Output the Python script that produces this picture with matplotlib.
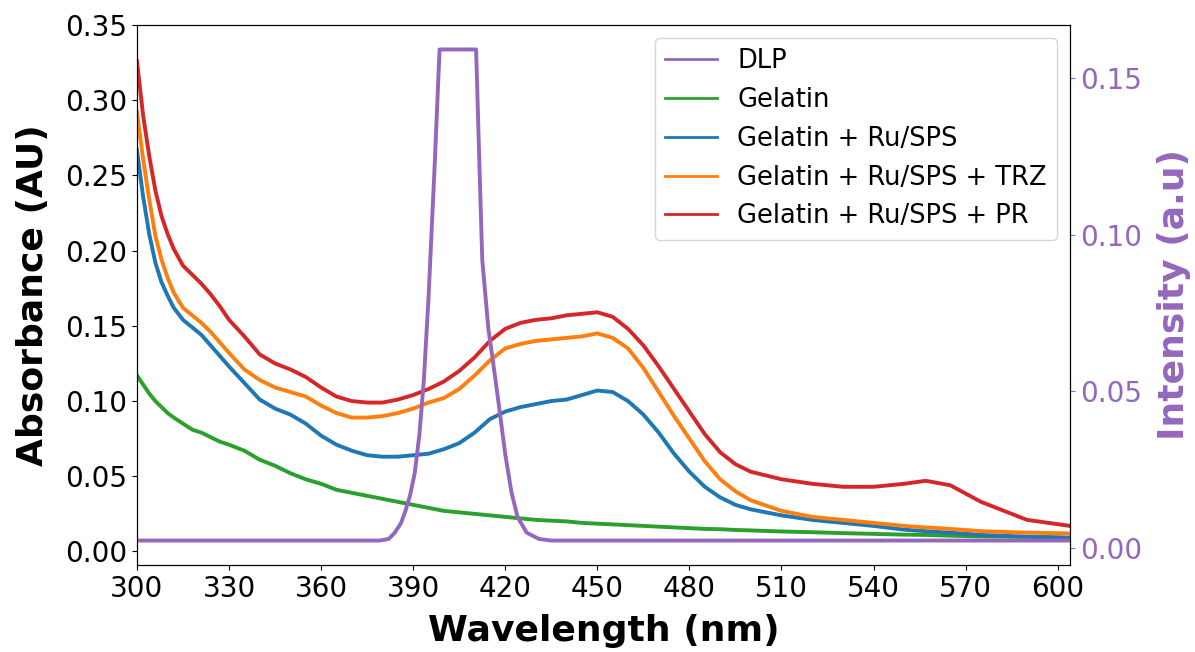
import numpy as np
import matplotlib.pyplot as plt

wl = [300, 302, 304, 306, 308, 310, 312, 315, 318, 321, 324, 327, 330, 335, 340,
      345, 350, 355, 360, 365, 370, 375, 380, 385, 390, 395, 400, 405, 410, 415,
      420, 425, 430, 435, 440, 445, 450, 455, 460, 465, 470, 475, 480, 485, 490,
      495, 500, 510, 520, 530, 540, 550, 557, 565, 575, 590, 604]

gelatin = [0.117, 0.111, 0.105, 0.100, 0.096, 0.092, 0.089, 0.085, 0.081, 0.079,
           0.076, 0.073, 0.071, 0.067, 0.061, 0.057, 0.052, 0.048, 0.045, 0.041,
           0.039, 0.037, 0.035, 0.033, 0.031, 0.029, 0.027, 0.026, 0.025, 0.024,
           0.023, 0.022, 0.021, 0.0205, 0.020, 0.019, 0.0185, 0.018, 0.0175, 0.017,
           0.0165, 0.016, 0.0155, 0.015, 0.0148, 0.0143, 0.014, 0.0133, 0.0128, 0.0122,
           0.0117, 0.0112, 0.011, 0.0105, 0.010, 0.0097, 0.0093]

ru_sps = [0.267, 0.236, 0.211, 0.192, 0.179, 0.170, 0.162, 0.154, 0.149, 0.144,
          0.137, 0.130, 0.123, 0.112, 0.101, 0.095, 0.091, 0.085, 0.077, 0.071,
          0.067, 0.064, 0.063, 0.063, 0.064, 0.065, 0.068, 0.072, 0.079, 0.088,
          0.093, 0.096, 0.098, 0.100, 0.101, 0.104, 0.107, 0.106, 0.100, 0.091,
          0.079, 0.065, 0.053, 0.043, 0.036, 0.031, 0.028, 0.024, 0.021, 0.019,
          0.017, 0.0145, 0.0135, 0.0125, 0.011, 0.0098, 0.009]

ru_sps_trz = [0.292, 0.261, 0.234, 0.210, 0.194, 0.182, 0.172, 0.162, 0.157, 0.152,
              0.146, 0.139, 0.132, 0.121, 0.114, 0.109, 0.106, 0.103, 0.097, 0.092,
              0.089, 0.089, 0.090, 0.092, 0.095, 0.099, 0.102, 0.108, 0.117, 0.127,
              0.135, 0.138, 0.140, 0.141, 0.142, 0.143, 0.145, 0.142, 0.135, 0.122,
              0.106, 0.090, 0.075, 0.060, 0.048, 0.040, 0.034, 0.027, 0.023, 0.021,
              0.019, 0.017, 0.016, 0.015, 0.0135, 0.0125, 0.012]

ru_sps_pr = [0.326, 0.290, 0.263, 0.240, 0.223, 0.211, 0.201, 0.190, 0.184, 0.178,
             0.171, 0.163, 0.154, 0.143, 0.131, 0.125, 0.121, 0.116, 0.109, 0.103,
             0.100, 0.099, 0.099, 0.101, 0.104, 0.108, 0.113, 0.120, 0.129, 0.140,
             0.148, 0.152, 0.154, 0.155, 0.157, 0.158, 0.159, 0.156, 0.148, 0.137,
             0.123, 0.108, 0.093, 0.078, 0.066, 0.058, 0.053, 0.048, 0.045, 0.043,
             0.043, 0.045, 0.047, 0.044, 0.033, 0.021, 0.017]

dlp_wl = [300, 350, 379, 382, 384, 386, 387.5, 389, 390.5, 392, 393.5, 395, 397, 398.6,
          410.5, 411.5, 412.5, 414.5, 416.5, 418, 420, 422, 424, 427, 431, 435, 500, 604]
dlp = [0.0025, 0.0025, 0.0025, 0.003, 0.005, 0.008, 0.012, 0.017, 0.024, 0.036, 0.054,
       0.080, 0.122, 0.159, 0.159, 0.125, 0.092, 0.070, 0.056, 0.045, 0.030, 0.018,
       0.010, 0.005, 0.003, 0.0025, 0.0025, 0.0025]

purple = '#9467bd'

fig, ax = plt.subplots(figsize=(11.95, 6.52), dpi=100)
fig.subplots_adjust(left=0.1146, right=0.8954, top=0.9617, bottom=0.1334)

l_gel, = ax.plot(wl, gelatin, color='#2ca02c', lw=2.8, label='Gelatin')
l_ru, = ax.plot(wl, ru_sps, color='#1f77b4', lw=2.8, label='Gelatin + Ru/SPS')
l_trz, = ax.plot(wl, ru_sps_trz, color='#ff7f0e', lw=2.8, label='Gelatin + Ru/SPS + TRZ')
l_pr, = ax.plot(wl, ru_sps_pr, color='#d62728', lw=2.8, label='Gelatin + Ru/SPS + PR')

ax.set_xlim(300, 604)
ax.set_ylim(-0.009, 0.35)
ax.set_xticks(np.arange(300, 601, 30))
ax.set_xlabel('Wavelength (nm)', fontsize=26, fontweight='bold', labelpad=8)
ax.set_ylabel('Absorbance (AU)', fontsize=26, fontweight='bold', labelpad=11)
ax.tick_params(labelsize=20)

ax2 = ax.twinx()
l_dlp, = ax2.plot(dlp_wl, dlp, color=purple, lw=2.8, label='DLP')
ax2.set_ylim(-0.0053, 0.1668)
ax2.set_yticks([0.0, 0.05, 0.10, 0.15])
ax2.set_ylabel('Intensity (a.u)', fontsize=26, fontweight='bold', color=purple, labelpad=11)
ax2.tick_params(axis='y', labelsize=20, colors=purple)

leg = ax2.legend(handles=[l_dlp, l_gel, l_ru, l_trz, l_pr], loc='upper right', fontsize=18.5)
for h in leg.get_lines():
    h.set_linewidth(2)

plt.savefig('out.png')
